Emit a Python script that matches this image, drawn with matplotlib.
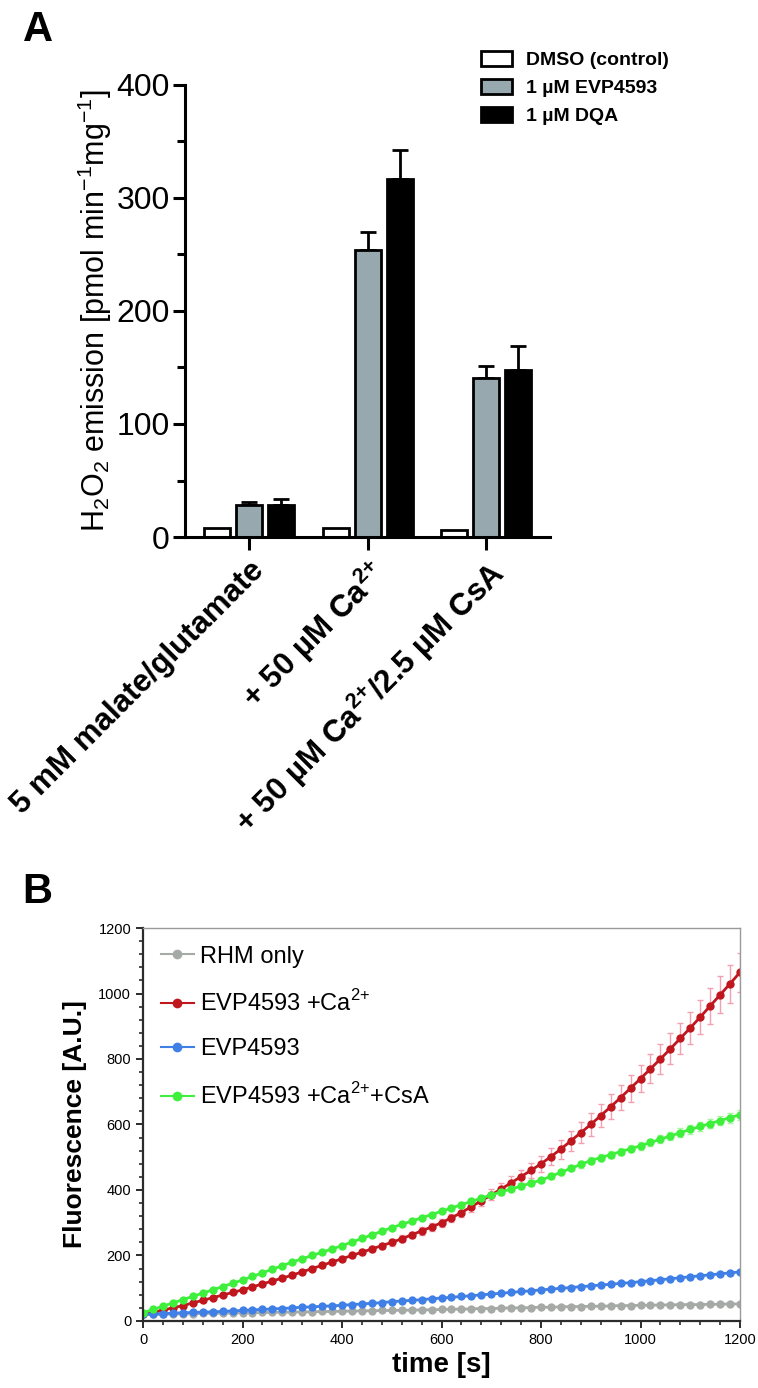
import matplotlib
matplotlib.use("Agg")
import matplotlib.pyplot as plt
import numpy as np
from matplotlib.patches import Patch
from matplotlib.lines import Line2D
from matplotlib.ticker import MultipleLocator

plt.rcParams["font.family"] = ["Liberation Sans", "DejaVu Sans"]
plt.rcParams["mathtext.fontset"] = "custom"
plt.rcParams["mathtext.rm"] = "Liberation Sans"
plt.rcParams["mathtext.bf"] = "Liberation Sans:bold"

# ---- panel A data ----
conditions = ["5 mM malate/glutamate",
              "+ 50 µM Ca$^{\\mathbf{2{+}}}$",
              "+ 50 µM Ca$^{\\mathbf{2{+}}}$/2.5 µM CsA"]
treatments = ["DMSO (control)", "1 µM EVP4593", "1 µM DQA"]
dmso = [8, 8, 6]
dmso_err = [0, 0, 0]
evp = [28, 254, 141]
evp_err = [3, 16, 10]
dqa = [28, 317, 148]
dqa_err = [6, 25, 21]

# ---- panel B data (time in s) ----
time_s = list(range(0, 1201, 20))
rhm_only = [20, 20, 21, 21, 22, 22, 23, 23, 24, 24, 25,
            25, 26, 26, 27, 27, 28, 28, 29, 29, 30,
            30, 31, 31, 32, 32, 33, 33, 34, 34, 35,
            36, 36, 37, 38, 38, 39, 40, 40, 41, 42,
            42, 43, 44, 44, 45, 45, 46, 47, 47, 48,
            48, 49, 49, 50, 50, 50, 51, 51, 52, 52]
evp_ca = [20, 26, 33, 40, 47, 55, 63, 71, 79, 87, 95,
          104, 113, 122, 131, 140, 150, 160, 170, 180, 190,
          200, 210, 220, 230, 240, 251, 263, 275, 287, 300,
          315, 331, 349, 367, 385, 403, 422, 441, 460, 480,
          502, 525, 550, 575, 600, 627, 654, 682, 711, 740,
          770, 800, 831, 863, 895, 928, 962, 996, 1030, 1065]
evp_ca_err = [2, 2, 3, 3, 3, 3, 4, 4, 4, 4, 5,
              5, 5, 6, 6, 6, 7, 7, 7, 8, 8,
              8, 9, 9, 9, 10, 10, 10, 11, 11, 12,
              13, 14, 15, 16, 17, 18, 20, 21, 23, 25,
              27, 29, 31, 33, 35, 36, 38, 39, 41, 42,
              44, 45, 47, 48, 50, 52, 54, 56, 58, 60]
evp_only = [20, 21, 22, 24, 25, 26, 27, 28, 29, 31, 32,
            34, 35, 37, 38, 40, 42, 43, 45, 46, 48,
            50, 52, 54, 56, 59, 61, 63, 65, 68, 70,
            72, 75, 77, 80, 82, 85, 87, 90, 92, 95,
            97, 100, 102, 105, 107, 110, 112, 115, 117, 120,
            123, 126, 129, 132, 135, 138, 141, 144, 147, 150]
evp_ca_csa = [25, 35, 45, 55, 65, 75, 85, 95, 105, 115, 125,
              136, 147, 158, 169, 180, 190, 200, 210, 220, 230,
              241, 252, 263, 274, 285, 295, 305, 315, 325, 335,
              345, 355, 365, 375, 385, 394, 403, 412, 421, 430,
              442, 454, 466, 478, 490, 499, 508, 517, 526, 535,
              545, 555, 565, 575, 585, 594, 603, 612, 621, 630]
evp_ca_csa_err = [2, 2, 2, 2, 2, 2, 2, 3, 3, 3, 3,
                  3, 3, 3, 3, 4, 4, 4, 4, 4, 4,
                  4, 4, 5, 5, 5, 5, 5, 5, 6, 6,
                  6, 6, 6, 7, 7, 7, 7, 8, 8, 8,
                  9, 9, 9, 10, 10, 10, 11, 11, 11, 12,
                  12, 12, 13, 13, 13, 14, 14, 14, 15, 15]

fig = plt.figure(figsize=(7.58, 13.88), dpi=100)

# ================= panel A =================
axA = fig.add_axes([0.244, 0.6131, 0.482, 0.3257])
x = np.arange(len(conditions))
w = 0.22
off = 0.27
bar_colors = ["white", "#97a9ae", "black"]
for i, (vals, errs) in enumerate([(dmso, dmso_err), (evp, evp_err), (dqa, dqa_err)]):
    pos = x + (i - 1) * off
    axA.bar(pos, vals, width=w, color=bar_colors[i], edgecolor="black",
            linewidth=2, zorder=2)
    if any(errs):
        axA.errorbar(pos, vals, yerr=[[0] * len(errs), errs], fmt="none",
                     ecolor="black", elinewidth=2, capsize=6, capthick=2, zorder=1)

axA.set_xlim(-0.54, 2.54)
axA.set_ylim(0, 400)
axA.spines["top"].set_visible(False)
axA.spines["right"].set_visible(False)
for s in ["left", "bottom"]:
    axA.spines[s].set_linewidth(2.2)
axA.yaxis.set_major_locator(MultipleLocator(100))
axA.yaxis.set_minor_locator(MultipleLocator(50))
axA.tick_params(axis="y", which="major", length=9, width=2.2, labelsize=23, pad=2)
axA.tick_params(axis="y", which="minor", length=6, width=2.2)
axA.tick_params(axis="x", which="major", length=9, width=2.2, pad=4)
axA.set_xticks(x)
axA.set_xticklabels(conditions, rotation=45, ha="right", va="top",
                    rotation_mode="anchor", fontsize=22.5, fontweight="bold")
axA.set_ylabel("H$_2$O$_2$ emission [pmol min$^{-1}$mg$^{-1}$]", fontsize=22, labelpad=2)

handlesA = [Patch(facecolor=c, edgecolor="black", linewidth=2) for c in bar_colors]
axA.legend(handlesA, treatments, loc="upper left", bbox_to_anchor=(0.81, 1.075),
           frameon=False, prop={"weight": "bold", "size": 14},
           handlelength=1.6, handleheight=0.8, handletextpad=0.7,
           labelspacing=0.5, borderpad=0, borderaxespad=0)

fig.text(0.03, 0.993, "A", fontsize=30, fontweight="bold", va="top", ha="left")

# ================= panel B =================
axB = fig.add_axes([0.1887, 0.0483, 0.7876, 0.2831])
series = [
    ("RHM only", rhm_only, None, "#a6aaa7", None),
    ("EVP4593 +Ca$^{2{+}}$", evp_ca, evp_ca_err, "#c0161d", "#f3a0b0"),
    ("EVP4593", evp_only, None, "#3f7fe6", None),
    ("EVP4593 +Ca$^{2{+}}$+CsA", evp_ca_csa, evp_ca_csa_err, "#3ef03c", "#a8f5a0"),
]
for label, ys, errs, col, ecol in series:
    if errs is not None:
        axB.errorbar(time_s, ys, yerr=errs, fmt="none", ecolor=ecol,
                     elinewidth=1, capsize=2, capthick=1, zorder=1)
    axB.plot(time_s, ys, color=col, lw=2, marker="o", markersize=6,
             markeredgewidth=0, label=label, zorder=2)

axB.set_xlim(0, 1200)
axB.set_ylim(0, 1200)
axB.xaxis.set_major_locator(MultipleLocator(200))
axB.xaxis.set_minor_locator(MultipleLocator(40))
axB.yaxis.set_major_locator(MultipleLocator(200))
axB.yaxis.set_minor_locator(MultipleLocator(40))
for s in ["left", "bottom"]:
    axB.spines[s].set_linewidth(1.6)
    axB.spines[s].set_color("#2b2b2b")
for s in ["top", "right"]:
    axB.spines[s].set_linewidth(1.0)
    axB.spines[s].set_color("#9a9a9a")
axB.tick_params(which="major", length=5, width=1.4, labelsize=10.5, color="#2b2b2b")
axB.tick_params(which="minor", length=3, width=1.2, color="#2b2b2b")
axB.set_xlabel("time [s]", fontsize=20, fontweight="bold", labelpad=4)
axB.set_ylabel("Fluorescence [A.U.]", fontsize=19, fontweight="bold", labelpad=8)

handlesB = [Line2D([0], [0], color=c, lw=1.5, marker="o", markersize=7,
                   markeredgewidth=0) for _, _, _, c, _ in series]
axB.legend(handlesB, [s[0] for s in series], loc="upper left",
           bbox_to_anchor=(0.03, 0.955), frameon=False, fontsize=17,
           handlelength=1.4, handletextpad=0.25, labelspacing=0.95,
           borderpad=0, borderaxespad=0)

fig.text(0.03, 0.372, "B", fontsize=30, fontweight="bold", va="top", ha="left")

fig.savefig("out.png", dpi=100)
